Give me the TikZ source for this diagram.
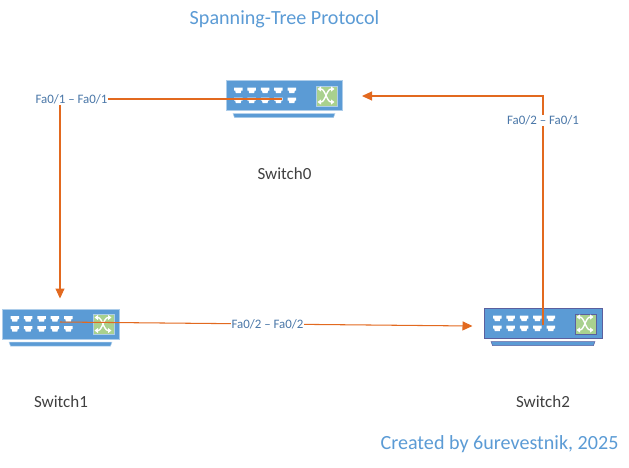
\documentclass[tikz,border=0pt]{standalone}
\usepackage{fontspec}
\setmainfont{Carlito}
\usetikzlibrary{arrows.meta}
\definecolor{swblue}{HTML}{5B9BD5}
\definecolor{swgreen}{HTML}{A9D18E}
\definecolor{wireor}{HTML}{E2691F}
\definecolor{labtxt}{HTML}{4A77A8}
\definecolor{swdark}{HTML}{5B5F9E}
\tikzset{
  x=1pt,y=-1pt,
  swbody/.style={draw=#1,line width=0.8pt,fill=swblue,minimum width=117pt,minimum height=30pt,inner sep=0pt,anchor=north west},
  swgreenbox/.style={draw=#1,line width=1pt,fill=swgreen,minimum width=21pt,minimum height=20pt,inner sep=0pt,anchor=north west},
  wire/.style={draw=wireor,line width=1.05pt},
  wiretip/.style={-{Triangle[length=10pt,width=9pt]}},
  lnk/.style={fill=white,text=labtxt,font=\fontsize{12.9}{14}\selectfont,inner sep=1pt},
  swname/.style={text=black!75,font=\fontsize{17}{19}\selectfont,inner sep=0pt},
  heading/.style={text=swblue,font=\fontsize{20.1}{22}\selectfont,inner sep=0pt},
}
\newcommand{\portglyph}[2]{%
  \fill[white] (#1,#2) -- ++(8.5,0) -- ++(0,3) -- ++(-1.2,0) -- ++(-0.6,2.7) -- ++(-4.9,0) -- ++(-0.6,-2.7) -- ++(-1.2,0) -- cycle;
  \fill[white] (#1,#2+10) -- ++(8.5,0) -- ++(0,3) -- ++(-1.2,0) -- ++(-0.6,2.7) -- ++(-4.9,0) -- ++(-0.6,-2.7) -- ++(-1.2,0) -- cycle;
}
% #1 name, #2 x, #3 y, #4 border colour, #5 green-box dx, #6 ports dx, #7 width
\newcommand{\switchicon}[7]{%
  \node[swbody=#4,minimum width=#7pt] (#1) at (#2,#3) {};
  \fill[swblue,draw=#4,line width=0.5pt] (#2+7,#3+33.5) -- (#2+#7-7,#3+33.5) -- (#2+#7-8.5,#3+37.5) -- (#2+8.5,#3+37.5) -- cycle;
  \foreach \i in {0,1,2,3,4} {\portglyph{#2+#6+13.4*\i}{#3+7.5}}
  \node[swgreenbox=#4] (#1g) at (#2+#5,#3+5.5) {};
  \begin{scope}[white,line width=1.4pt,{Triangle[length=3.5pt,width=5pt]}-{Triangle[length=3.5pt,width=5pt]}]
    \draw (#2+#5+2,#3+9) .. controls (#2+#5+10,#3+9) and (#2+#5+11,#3+22) .. (#2+#5+19,#3+22);
    \draw (#2+#5+2,#3+22) .. controls (#2+#5+10,#3+22) and (#2+#5+11,#3+9) .. (#2+#5+19,#3+9);
  \end{scope}
}
\begin{document}
\begin{tikzpicture}
\useasboundingbox (0,0) rectangle (629,467);
\switchicon{swa}{226}{80}{swblue!50!white}{89.5}{8}{116}
\switchicon{swb}{2}{308.5}{swblue!50!white}{90.5}{8.5}{117}
\switchicon{swc}{484}{308}{swdark}{90.5}{9}{118}
\coordinate (a1) at (282,99);
\coordinate (a2) at (60,99);
\coordinate (a3) at (60,298.5);
\coordinate (b1) at (60,322);
\coordinate (b2) at (472.5,326);
\coordinate (c1) at (543,325);
\coordinate (c2) at (543,96);
\coordinate (c3) at (362,96);
\draw[wire,wiretip] (a1) -- (a2) -- (a3);
\draw[wire,wiretip] (b1) -- (b2);
\draw[wire,wiretip] (c1) -- (c2) -- (c3);
\node[lnk] (l1) at (71.5,99) {Fa0/1 – Fa0/1};
\node[lnk] (l2) at (267.5,324) {Fa0/2 – Fa0/2};
\node[lnk] (l3) at (543,120.5) {Fa0/2 – Fa0/1};
\node[swname] (n0) at (284.5,173.5) {Switch0};
\node[swname] (n1) at (61,402) {Switch1};
\node[swname] (n2) at (543,402) {Switch2};
\node[heading] (t1) at (284.5,19) {Spanning-Tree Protocol};
\node[heading] (t2) at (499.5,444) {Created by 6urevestnik, 2025};
\end{tikzpicture}
\end{document}
